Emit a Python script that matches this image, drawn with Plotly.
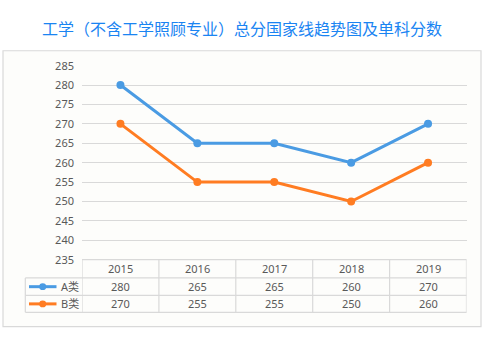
import plotly.graph_objects as go

W, H = 484, 341

title = "工学（不含工学照顾专业）总分国家线趋势图及单科分数"
years = ["2015", "2016", "2017", "2018", "2019"]
series_names = ["A类", "B类"]
a_values = [280, 265, 265, 260, 270]
b_values = [270, 255, 255, 250, 260]
y_ticks = [235, 240, 245, 250, 255, 260, 265, 270, 275, 280, 285]

colors = ["#4a9be3", "#ff7c22"]
text_color = "#595959"
grid_color = "#d9d9d9"
FONT = "Noto Sans, Noto Sans CJK SC, sans-serif"


def py(p):
    """pixel y (from top) -> paper y"""
    return (H - p) / H


def px(p):
    return p / W


x_left, x_right = 82, 466.5
y_top_px, y_bot_px = 60.3, 263.3

fig = go.Figure()
idx = list(range(len(years)))
for name, vals, col in zip(series_names, [a_values, b_values], colors):
    fig.add_trace(go.Scatter(
        x=idx, y=vals, mode="lines+markers", name=name,
        line=dict(color=col, width=3),
        marker=dict(color=col, size=8),
        showlegend=False, hoverinfo="skip"))

shapes = []
# outer frame
shapes.append(dict(type="rect", xref="paper", yref="paper",
                   x0=px(3), x1=px(481), y0=py(333.3), y1=py(44.7),
                   line=dict(color="#d9d9d9", width=1.2),
                   fillcolor="#fdfdfb", layer="below"))

# table geometry
row_lines = [263.3, 282.3, 300.7, 318.3]
leg_x0 = 25.3
lc = dict(color=grid_color, width=1.2)
for i, yy in enumerate(row_lines):
    x0 = x_left if i == 0 else leg_x0
    shapes.append(dict(type="line", xref="paper", yref="paper",
                       x0=px(x0), x1=px(x_right), y0=py(yy), y1=py(yy), line=lc))
shapes.append(dict(type="line", xref="paper", yref="paper",
                   x0=px(leg_x0), x1=px(leg_x0), y0=py(row_lines[1]), y1=py(row_lines[3]), line=lc))
for k in range(len(years) + 1):
    shapes.append(dict(type="line", xref="x", yref="paper",
                       x0=k - 0.5, x1=k - 0.5, y0=py(row_lines[0]), y1=py(row_lines[3]), line=lc))

annotations = []
annotations.append(dict(text=title, xref="paper", yref="paper", x=px(242), y=py(21),
                        showarrow=False, xanchor="center", yanchor="middle",
                        font=dict(family="Noto Sans CJK SC", size=16, color="#1a84f2")))

row_centers = [(row_lines[i] + row_lines[i + 1]) / 2 for i in range(3)]
tfont = dict(family=FONT, size=11, color=text_color)
for i, yr in enumerate(years):
    annotations.append(dict(text=yr, xref="x", yref="paper", x=i, y=py(row_centers[0]),
                            showarrow=False, xanchor="center", yanchor="middle", font=tfont))
for r, vals in enumerate([a_values, b_values]):
    for i, v in enumerate(vals):
        annotations.append(dict(text=str(v), xref="x", yref="paper", x=i, y=py(row_centers[r + 1]),
                                showarrow=False, xanchor="center", yanchor="middle", font=tfont))
    col = colors[r]
    yc = py(row_centers[r + 1])
    shapes.append(dict(type="line", xref="paper", yref="paper",
                       x0=px(29), x1=px(56.5), y0=yc, y1=yc, line=dict(color=col, width=3)))
    shapes.append(dict(type="circle", xref="paper", yref="paper",
                       x0=px(42.7 - 3.5), x1=px(42.7 + 3.5), y0=yc - 3.5 / H, y1=yc + 3.5 / H,
                       line=dict(color=col, width=0), fillcolor=col))
    annotations.append(dict(text=series_names[r], xref="paper", yref="paper", x=px(80.5), y=yc,
                            showarrow=False, xanchor="right", yanchor="middle", font=tfont))

fig.update_layout(
    width=W, height=H,
    margin=dict(l=0, r=0, t=0, b=0),
    paper_bgcolor="white", plot_bgcolor="rgba(0,0,0,0)",
    shapes=shapes, annotations=annotations,
    xaxis=dict(domain=[px(x_left), px(x_right)], range=[-0.5, len(years) - 0.5],
               showgrid=False, showticklabels=False, zeroline=False, showline=False, ticks=""),
    yaxis=dict(domain=[py(y_bot_px), py(y_top_px)], range=[235, 285],
               tickvals=y_ticks, showgrid=True, gridcolor=grid_color, gridwidth=1.3,
               zeroline=False, showline=False, ticks="", ticklabelstandoff=7,
               tickfont=dict(family=FONT, size=11, color=text_color)),
    font=dict(family=FONT),
)

fig.write_html("out.html")
